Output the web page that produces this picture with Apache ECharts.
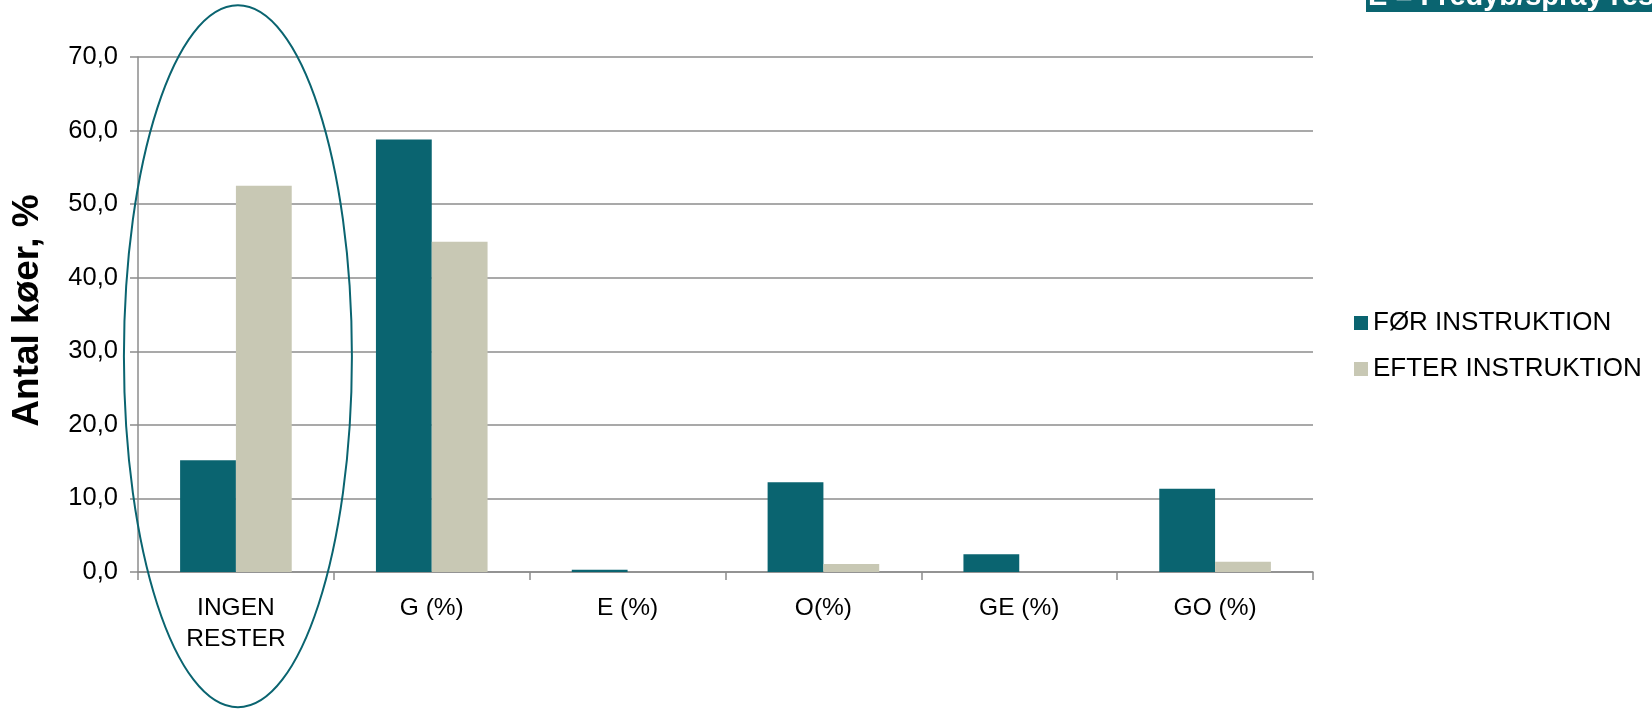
<!DOCTYPE html>
<html><head><meta charset="utf-8">
<script src="https://cdn.jsdelivr.net/npm/echarts@6/dist/echarts.min.js"></script>
<style>html,body{margin:0;padding:0;background:#fff}#c{width:1652px;height:714px}</style>
</head><body><div id="c"></div>
<script>
const categories = ['INGEN\nRESTER', 'G (%)', 'E (%)', 'O(%)', 'GE (%)', 'GO (%)'];
const seriesNames = ['FØR INSTRUKTION', 'EFTER INSTRUKTION'];
const forValues = [15.2, 58.8, 0.3, 12.2, 2.4, 11.3];
const efterValues = [52.5, 44.9, 0, 1.1, 0, 1.4];
const yTicks = { min: 0, max: 70, interval: 10 };
const yTitle = 'Antal køer, %';
const cornerNote = 'E = Fredyb/spray rester';

const teal = '#0A6470', beige = '#C8C8B4', gridGray = '#8C8C8C';
const chart = echarts.init(document.getElementById('c'), null, {renderer: 'canvas'});
const font = 'Liberation Sans, Arial, sans-serif';
chart.setOption({
  animation: false,
  textStyle: {fontFamily: font},
  grid: {left: 138, right: 339, top: 57, bottom: 142},
  legend: {
    orient: 'vertical', left: 1349, top: 305, itemWidth: 14, itemHeight: 14, itemGap: 20,
    icon: 'rect', textStyle: {fontSize: 26, color: '#000', fontFamily: font},
    data: seriesNames
  },
  xAxis: {
    type: 'category', data: categories,
    axisLine: {lineStyle: {color: gridGray, width: 1.5}},
    axisTick: {show: true, length: 8, lineStyle: {color: gridGray, width: 1.5}},
    axisLabel: {fontSize: 24.5, color: '#000', margin: 21, lineHeight: 31, fontFamily: font}
  },
  yAxis: {
    type: 'value', min: yTicks.min, max: yTicks.max, interval: yTicks.interval,
    name: yTitle, nameLocation: 'middle', nameGap: 92, nameRotate: 90,
    nameTextStyle: {fontSize: 37, fontWeight: 'bold', color: '#000', fontFamily: font, padding: [0, 0, 0, 8]},
    axisLine: {show: true, lineStyle: {color: gridGray, width: 1.5}},
    axisTick: {show: true, length: 8, lineStyle: {color: gridGray, width: 1.5}},
    splitLine: {lineStyle: {color: gridGray, width: 1.5}},
    axisLabel: {fontSize: 25.5, color: '#000', margin: 20, fontFamily: font,
      formatter: v => v.toFixed(1).replace('.', ',')}
  },
  series: [
    {name: seriesNames[0], type: 'bar', data: forValues, itemStyle: {color: teal},
     barGap: '0%', barCategoryGap: '43%'},
    {name: seriesNames[1], type: 'bar', data: efterValues, itemStyle: {color: beige},
     barGap: '0%', barCategoryGap: '43%'}
  ]
});
const cx = chart.convertToPixel({xAxisIndex: 0}, categories[0]);
const cy = chart.convertToPixel({yAxisIndex: 0}, 30);
chart.setOption({
  graphic: [
    {type: 'ellipse', shape: {cx: cx + 2, cy: cy + 5, rx: 114, ry: 351},
     style: {fill: 'none', stroke: teal, lineWidth: 2}, z: 100},
    {type: 'rect', shape: {x: 1366, y: -10, width: 300, height: 22}, style: {fill: teal}, z: 100},
    {type: 'text', x: 1368, y: -3,
     style: {text: cornerNote, fill: '#fff', font: 'bold 29px ' + font, verticalAlign: 'middle'}, z: 101}
  ]
});
</script></body></html>
